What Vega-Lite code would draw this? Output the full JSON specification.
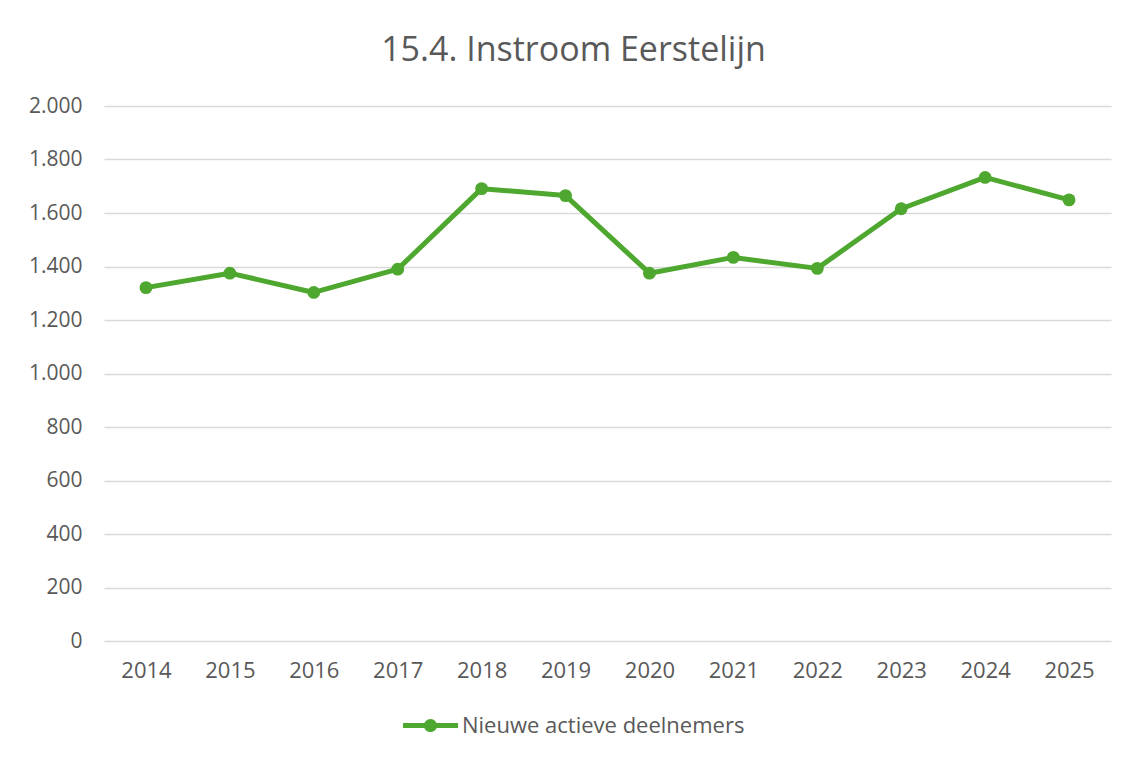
{
  "$schema": "https://vega.github.io/schema/vega-lite/v6.json",
  "autosize": "none",
  "width": 1007,
  "height": 535,
  "padding": {"left": 104, "top": 106, "right": 21, "bottom": 117},
  "background": "white",
  "title": {
    "text": "15.4. Instroom Eerstelijn",
    "fontSize": 34,
    "font": "Open Sans",
    "fontWeight": "normal",
    "color": "#595959",
    "anchor": "middle",
    "frame": "group",
    "baseline": "alphabetic",
    "offset": 0,
    "dx": -34
  },
  "data": {
    "values": [
      {"jaar": "2014", "waarde": 1321, "reeks": "Nieuwe actieve deelnemers"},
      {"jaar": "2015", "waarde": 1375, "reeks": "Nieuwe actieve deelnemers"},
      {"jaar": "2016", "waarde": 1303, "reeks": "Nieuwe actieve deelnemers"},
      {"jaar": "2017", "waarde": 1390, "reeks": "Nieuwe actieve deelnemers"},
      {"jaar": "2018", "waarde": 1691, "reeks": "Nieuwe actieve deelnemers"},
      {"jaar": "2019", "waarde": 1665, "reeks": "Nieuwe actieve deelnemers"},
      {"jaar": "2020", "waarde": 1375, "reeks": "Nieuwe actieve deelnemers"},
      {"jaar": "2021", "waarde": 1434, "reeks": "Nieuwe actieve deelnemers"},
      {"jaar": "2022", "waarde": 1393, "reeks": "Nieuwe actieve deelnemers"},
      {"jaar": "2023", "waarde": 1616, "reeks": "Nieuwe actieve deelnemers"},
      {"jaar": "2024", "waarde": 1733, "reeks": "Nieuwe actieve deelnemers"},
      {"jaar": "2025", "waarde": 1649, "reeks": "Nieuwe actieve deelnemers"}
    ]
  },
  "encoding": {
    "x": {
      "field": "jaar",
      "type": "ordinal",
      "scale": {"type": "point", "padding": 0.5},
      "axis": {
        "title": null,
        "labelAngle": 0,
        "grid": false,
        "domain": false,
        "ticks": false,
        "labelPadding": 19,
        "labelFontSize": 22,
        "labelFont": "Open Sans",
        "labelColor": "#595959"
      }
    },
    "y": {
      "field": "waarde",
      "type": "quantitative",
      "scale": {"domain": [0, 2000], "nice": false},
      "axis": {
        "title": null,
        "values": [0, 200, 400, 600, 800, 1000, 1200, 1400, 1600, 1800, 2000],
        "labelExpr": "replace(format(datum.value, ','), ',', '.')",
        "grid": true,
        "gridColor": "#D9D9D9",
        "gridWidth": 1.5,
        "domain": false,
        "ticks": false,
        "labelPadding": 22,
        "labelFontSize": 21,
        "labelFont": "Open Sans",
        "labelColor": "#595959"
      }
    },
    "color": {
      "field": "reeks",
      "type": "nominal",
      "scale": {"range": ["#4EA72E"]},
      "legend": {
        "title": null,
        "orient": "none",
        "legendX": 299,
        "legendY": 592,
        "padding": 0,
        "symbolType": "M-1,-0.09H1V0.09H-1Z M-0.24,0A0.24,0.24 0 1,1 0.24,0A0.24,0.24 0 1,1 -0.24,0Z",
        "symbolSize": 3025,
        "symbolFillColor": "#4EA72E",
        "symbolStrokeWidth": 0,
        "symbolOffset": 0,
        "labelFontSize": 22,
        "labelFont": "Open Sans",
        "labelColor": "#595959",
        "labelOffset": 4,
        "labelLimit": 0
      }
    }
  },
  "layer": [
    {"mark": {"type": "line", "strokeWidth": 5, "strokeJoin": "round"}},
    {"mark": {"type": "point", "shape": "circle", "filled": true, "size": 165, "opacity": 1}, "encoding": {"color": {"field": "reeks", "type": "nominal", "legend": null}}}
  ],
  "config": {
    "view": {"stroke": null}
  }
}
